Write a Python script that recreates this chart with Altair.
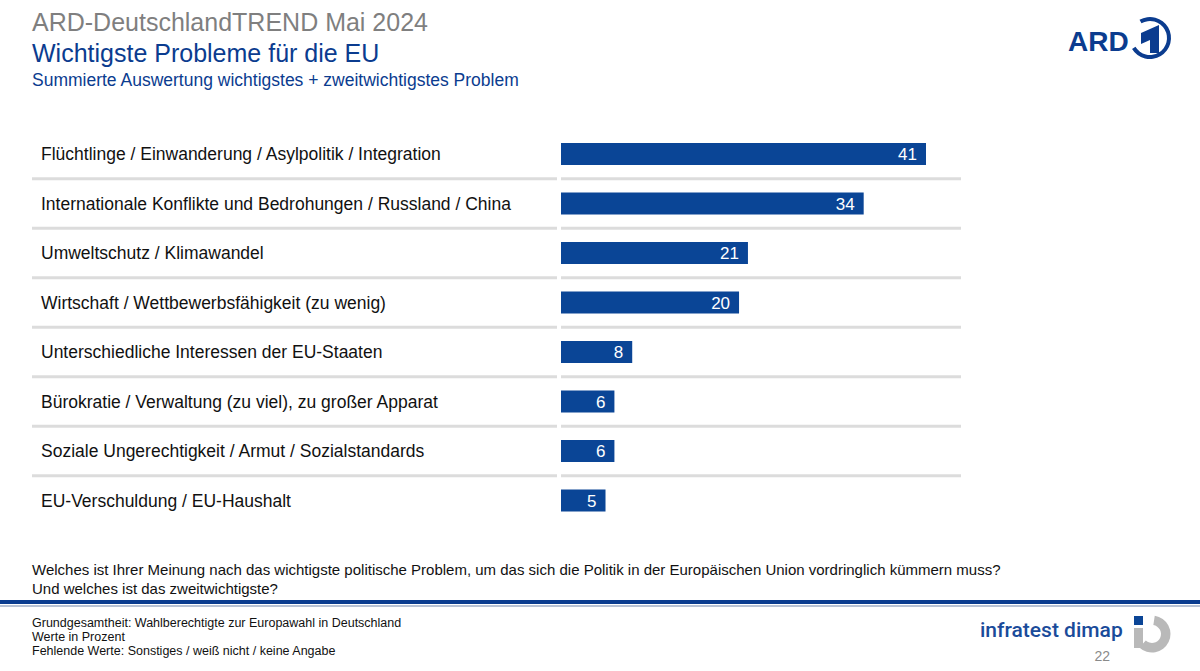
import altair as alt
import pandas as pd

categories = [
    "Flüchtlinge / Einwanderung / Asylpolitik / Integration",
    "Internationale Konflikte und Bedrohungen / Russland / China",
    "Umweltschutz / Klimawandel",
    "Wirtschaft / Wettbewerbsfähigkeit (zu wenig)",
    "Unterschiedliche Interessen der EU-Staaten",
    "Bürokratie / Verwaltung (zu viel), zu großer Apparat",
    "Soziale Ungerechtigkeit / Armut / Sozialstandards",
    "EU-Verschuldung / EU-Haushalt",
]
values = [41, 34, 21, 20, 8, 6, 6, 5]

title_top = "ARD-DeutschlandTREND Mai 2024"
title_main = "Wichtigste Probleme für die EU"
subtitle = "Summierte Auswertung wichtigstes + zweitwichtigstes Problem"
question = [
    "Welches ist Ihrer Meinung nach das wichtigste politische Problem, um das sich die Politik in der Europäischen Union vordringlich kümmern muss?",
    "Und welches ist das zweitwichtigste?",
]
footer = [
    "Grundgesamtheit: Wahlberechtigte zur Europawahl in Deutschland",
    "Werte in Prozent",
    "Fehlende Werte: Sonstiges / weiß nicht / keine Angabe",
]

FONT = "Liberation Sans"
BAR = "#0a4596"
DARKBLUE = "#0b3c8f"
GRAY = "#7f7f7f"
SEP = "#dcdcdc"

df = pd.DataFrame({"cat": categories, "val": values})
sep_df = df.iloc[:-1].copy()

xscale = alt.Scale(domain=[0, 41], range=[561, 926], nice=False, zero=True)
yscale = alt.Scale(domain=categories, range=[129.25, 525.25], paddingInner=0, paddingOuter=0)

X = alt.X("val:Q", scale=xscale, axis=None)
Y = alt.Y("cat:N", scale=yscale, axis=None, sort=categories)
Yend = alt.Y("cat:N", scale=yscale, axis=None, sort=categories, bandPosition=1)

bars = alt.Chart(df).mark_bar(size=22, color=BAR).encode(x=X, y=Y)
vals = alt.Chart(df).mark_text(align="right", baseline="middle", dx=-9, dy=1,
                               fontSize=17, font=FONT, color="white").encode(x=X, y=Y, text="val:Q")
labels = alt.Chart(df).mark_text(align="left", baseline="middle", dy=1, fontSize=17.5,
                                 font=FONT, color="#111111").encode(x=alt.value(41), y=Y, text="cat:N")
sep1 = alt.Chart(sep_df).mark_rule(strokeWidth=3, color=SEP).encode(
    y=Yend, x=alt.value(32), x2=alt.value(557))
sep2 = alt.Chart(sep_df).mark_rule(strokeWidth=3, color=SEP).encode(
    y=Yend, x=alt.value(561), x2=alt.value(961))

one = alt.Data(values=[{}])


def ann(text, x, y, size, color, weight="normal", align="left", font=FONT):
    return alt.Chart(one).mark_text(text=text, align=align, baseline="alphabetic", fontSize=size,
                                    color=color, fontWeight=weight, font=font).encode(
        x=alt.value(x), y=alt.value(y))


layers = [sep1, sep2, bars, vals, labels,
          ann(title_top, 32, 31, 25, GRAY),
          ann(title_main, 32, 62, 25, DARKBLUE),
          ann(subtitle, 32, 86, 17.5, DARKBLUE),
          ann(question[0], 32, 575, 15, "#111111"),
          ann(question[1], 32, 594, 15, "#111111"),
          ann(footer[0], 32, 627, 12.5, "#111111"),
          ann(footer[1], 32, 641, 12.5, "#111111"),
          ann(footer[2], 32, 655, 12.5, "#111111"),
          ann("infratest dimap", 980, 637, 21, "#1a4b9a", font="Roboto", weight=500),
          ann("22", 1110, 661, 14, "#8a8a8a", align="right"),
          ann("ARD", 1068, 51, 28, DARKBLUE, weight="bold"),
          ]

# bottom separator lines
blue_line = alt.Chart(one).mark_rule(strokeWidth=4, color="#0b3c8f").encode(
    x=alt.value(0), x2=alt.value(1200), y=alt.value(602))
gray_line = alt.Chart(one).mark_rule(strokeWidth=2, color="#b8c2d4").encode(
    x=alt.value(0), x2=alt.value(1200), y=alt.value(606))

# ARD logo ring and "1"
ard_ring = alt.Chart(one).mark_arc(radius=21, radius2=17, theta=5.76, theta2=10.45, color=DARKBLUE).encode(
    x=alt.value(1150), y=alt.value(38))
ard_one = alt.Chart(one).mark_point(
    shape="M -0.6 -0.4 L 0.6 -0.93 L 0.6 0.93 L 0 0.93 L 0 0.07 L -0.6 0.33 Z",
    filled=True, size=900, color=DARKBLUE, opacity=1, strokeWidth=0).encode(
    x=alt.value(1150), y=alt.value(39))

# infratest dimap logo
id_ring = alt.Chart(one).mark_arc(radius=18.5, radius2=9, theta=0.15, theta2=3.9, color="#b9b9b9").encode(
    x=alt.value(1152), y=alt.value(634))
id_stem = alt.Chart(one).mark_rect(color="#b9b9b9").encode(
    x=alt.value(1134), x2=alt.value(1143), y=alt.value(628), y2=alt.value(648))
id_dot = alt.Chart(one).mark_rect(color="#0b4596").encode(
    x=alt.value(1134), x2=alt.value(1143), y=alt.value(616), y2=alt.value(625))

chart = alt.layer(*layers, blue_line, gray_line, ard_ring, ard_one, id_ring, id_stem, id_dot).properties(
    width=1200, height=671,
    autosize=alt.AutoSizeParams(type="none"),
    padding=0,
    background="white",
).configure_view(stroke=None)

chart.save("out.html", embed_options={"renderer": "svg", "actions": False})
